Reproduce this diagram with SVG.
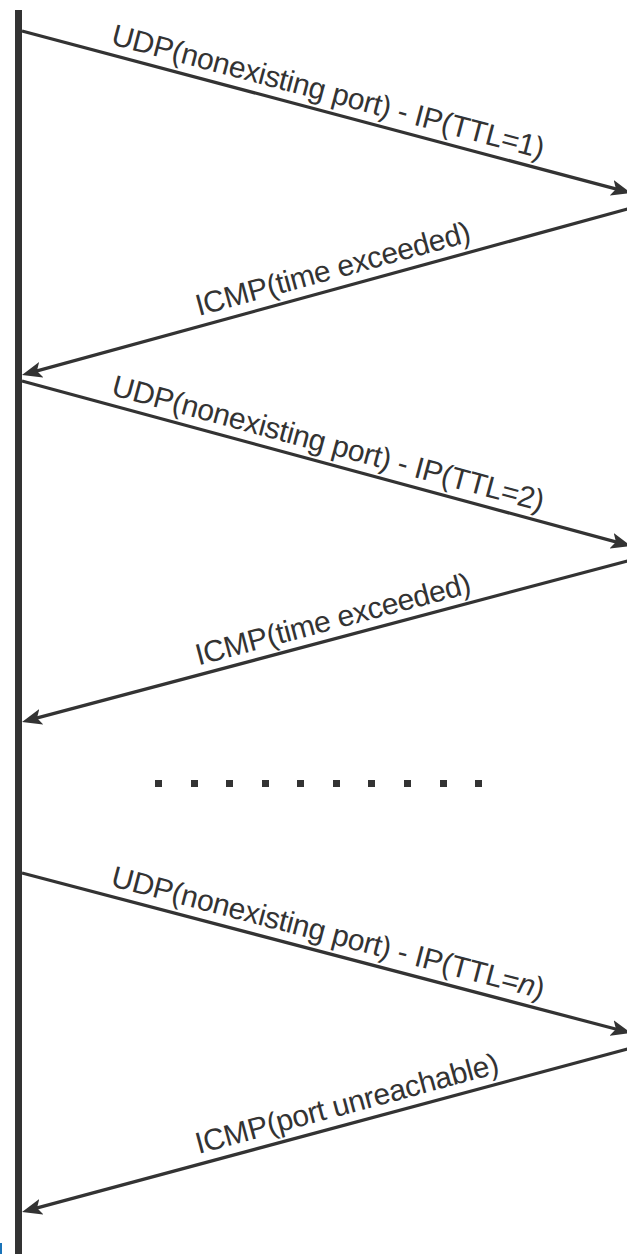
<svg xmlns="http://www.w3.org/2000/svg" width="627" height="1254" viewBox="0 0 627 1254">
  <style>
    .msg { fill: none; stroke: #333333; stroke-width: 3.2; marker-end: url(#head); }
    .lbl { font-family: "Liberation Sans", Arial, sans-serif; font-size: 30px; letter-spacing: -0.35px; fill: #333333; text-anchor: middle; }
    .dot { fill: #333333; }
  </style>
  <defs>
    <marker id="head" viewBox="0 0 20 16" refX="10" refY="8" markerWidth="20" markerHeight="16" markerUnits="userSpaceOnUse" orient="auto">
      <path d="M20,8 L0,0 L4.5,8 L0,16 Z" fill="#333333"/>
    </marker>
  </defs>
  <rect width="627" height="1254" fill="#ffffff"/>

  <!-- lifeline of the sending host -->
  <g id="host">
    <rect x="15" y="10" width="7" height="1244" fill="#333333"/>
  </g>

  <!-- messages -->
  <g id="connectors">
    <line class="msg" x1="22" y1="31" x2="621.3" y2="190.4"/>
    <line class="msg" x1="631" y1="208" x2="31.6" y2="372.4"/>
    <line class="msg" x1="22" y1="381" x2="621.3" y2="543.4"/>
    <line class="msg" x1="631" y1="560" x2="31.7" y2="719.4"/>
    <line class="msg" x1="22" y1="873" x2="621.3" y2="1030.5"/>
    <line class="msg" x1="631" y1="1048" x2="31.7" y2="1209.4"/>
  </g>

  <g id="label-udp1">
    <text class="lbl" transform="translate(323,111) rotate(14.9)" y="-10">UDP(nonexisting port) - IP(TTL=1)</text>
  </g>
  <g id="label-icmp1">
    <text class="lbl" transform="translate(338,288.3) rotate(-15.3)" y="-10">ICMP(time exceeded)</text>
  </g>
  <g id="label-udp2">
    <text class="lbl" transform="translate(323,462.7) rotate(15.15)" y="-10">UDP(nonexisting port) - IP(TTL=2)</text>
  </g>
  <g id="label-icmp2">
    <text class="lbl" transform="translate(338,638.7) rotate(-14.9)" y="-10">ICMP(time exceeded)</text>
  </g>
  <g id="label-udpn">
    <text class="lbl" transform="translate(323,952) rotate(14.7)" y="-10">UDP(nonexisting port) - IP(TTL=<tspan font-style="italic">n</tspan>)</text>
  </g>
  <g id="label-icmpn">
    <text class="lbl" transform="translate(352,1123) rotate(-15.1)" y="-10">ICMP(port unreachable)</text>
  </g>

  <!-- ellipsis between rounds -->
  <g id="ellipsis">
    <rect class="dot" x="155" y="780" width="7" height="7"/>
    <rect class="dot" x="191" y="780" width="7" height="7"/>
    <rect class="dot" x="226" y="780" width="7" height="7"/>
    <rect class="dot" x="262" y="780" width="7" height="7"/>
    <rect class="dot" x="297" y="780" width="7" height="7"/>
    <rect class="dot" x="333" y="780" width="7" height="7"/>
    <rect class="dot" x="368" y="780" width="7" height="7"/>
    <rect class="dot" x="404" y="780" width="7" height="7"/>
    <rect class="dot" x="440" y="780" width="7" height="7"/>
    <rect class="dot" x="475" y="780" width="7" height="7"/>
  </g>

  <rect x="0" y="1243" width="2" height="11" fill="#1a73b8"/>
</svg>
